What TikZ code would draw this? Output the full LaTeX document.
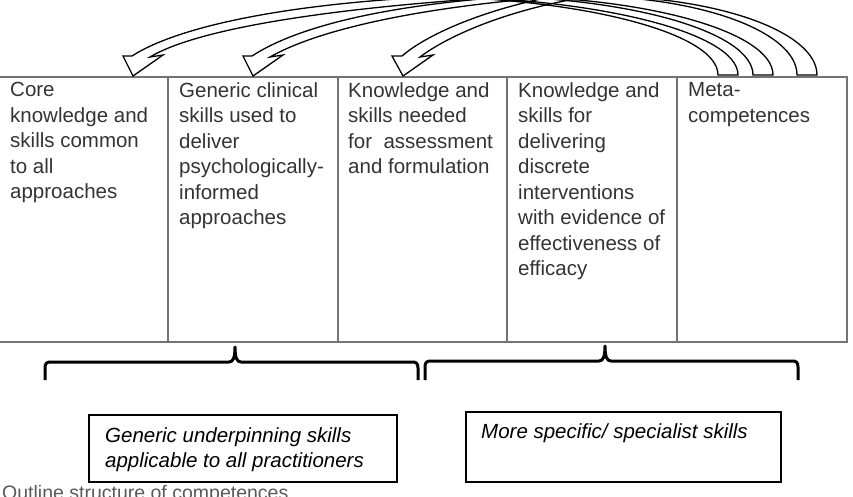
\documentclass[tikz,border=0pt]{standalone}
\usepackage{fontspec}
\setmainfont{Liberation Sans}
\definecolor{tablegray}{gray}{0.45}
\definecolor{txtgray}{gray}{0.2}
\definecolor{capgray}{gray}{0.35}
\begin{document}
\begin{tikzpicture}[x=1pt,y=-1pt,
  cellbox/.style={draw=tablegray, line width=1.2pt, minimum height=265pt, inner sep=0pt, outer sep=0pt},
  cell/.style={anchor=north west, align=left, inner sep=0pt, font=\fontsize{20.5}{25.5}\selectfont, text=txtgray},
  arw/.style={draw=black, line width=1.3pt, line join=miter},
  bracestyle/.style={draw=black, line width=3pt, line join=round},
  labbox/.style={draw=black, line width=1.3pt, inner sep=0pt},
  labtext/.style={anchor=north west, align=left, inner sep=0pt, font=\fontsize{20.5}{25}\selectfont\itshape, text=black},
  captext/.style={anchor=north west, inner sep=0pt, font=\fontsize{19.5}{23}\selectfont, text=capgray}]
\useasboundingbox (0,0) rectangle (853,496);
\clip (0,0) rectangle (853,496);

% table cells
\node[cellbox, minimum width=170pt] (c1) at (83,209.5) {};
\node[cellbox, minimum width=170pt] (c2) at (253,209.5) {};
\node[cellbox, minimum width=169pt] (c3) at (422.5,209.5) {};
\node[cellbox, minimum width=170pt] (c4) at (592,209.5) {};
\node[cellbox, minimum width=170pt] (c5) at (762,209.5) {};

\node[cell] (t1) at (10,82.3) {Core\\knowledge and\\skills common\\to all\\approaches};
\node[cell] (t2) at (179,82.3) {Generic clinical\\skills used to\\deliver\\psychologically-\\informed\\approaches};
\node[cell] (t3) at (348,82.3) {Knowledge and\\skills needed\\for\ \ assessment\\and formulation};
\node[cell] (t4) at (518,82.3) {Knowledge and\\skills for\\delivering\\discrete\\interventions\\with evidence of\\effectiveness of\\efficacy};
\node[cell] (t5) at (688,82.3) {Meta-\\competences};

% curved block arrows (left parts with heads)
\draw[arw] (480,-5) .. controls (300,0) and (180,25) .. (132,56) -- (123,56) -- (133,76) -- (163,55) -- (150,57) .. controls (195,30) and (320,8) .. (520,-4);
\draw[arw] (520,-4) .. controls (380,5) and (295,28) .. (252,56) -- (243,56) -- (253,76) -- (283,55) -- (270,57) .. controls (312,33) and (400,10) .. (540,-2);
\draw[arw] (560,-5) .. controls (480,10) and (425,36) .. (402,56) -- (392,56) -- (403,76) -- (433,55) -- (420,57) .. controls (445,38) and (500,12) .. (580,-2);

% tails on the meta-competences box
\draw[arw] (400,-4) .. controls (575.5,-4) and (718,31.8) .. (718,75) -- (738,75) .. controls (738,31.8) and (592,-4) .. (413,-4);
\draw[arw] (473,-4) .. controls (628,-4) and (753,31.8) .. (753,75) -- (773,75) .. controls (773,31.8) and (646,-4) .. (490,-4);
\draw[arw] (580,-4) .. controls (700,-4) and (797,31.8) .. (797,75) -- (817,75) .. controls (817,31.8) and (717,-4) .. (593,-4);

% braces
\draw[bracestyle] (45,380) -- (45,368) .. controls (45,363) and (47,362) .. (51,362)
  -- (229,362) .. controls (233,362) and (235,358) .. (235,347)
  .. controls (235,358) and (237,362) .. (241,362)
  -- (412,362) .. controls (416,362) and (418,363) .. (418,368) -- (418,380);
\draw[bracestyle] (425,380) -- (425,367) .. controls (425,362) and (427,361) .. (431,361)
  -- (599,361) .. controls (603,361) and (605,357) .. (605,346)
  .. controls (605,357) and (607,361) .. (611,361)
  -- (792,361) .. controls (796,361) and (798,362) .. (798,367) -- (798,380);

% bottom label boxes
\node[labbox, minimum width=308pt, minimum height=67pt] (gbox) at (243,448.5) {};
\node[labtext] (gtext) at (105,427.5) {Generic underpinning skills\\applicable to all practitioners};
\node[labbox, minimum width=315pt, minimum height=70pt] (sbox) at (623.5,447) {};
\node[labtext] (stext) at (481,423.5) {More specific/ specialist skills};

% caption (cut off at the bottom edge)
\node[captext] (cap) at (2,485) {Outline structure of competences};
\end{tikzpicture}
\end{document}
